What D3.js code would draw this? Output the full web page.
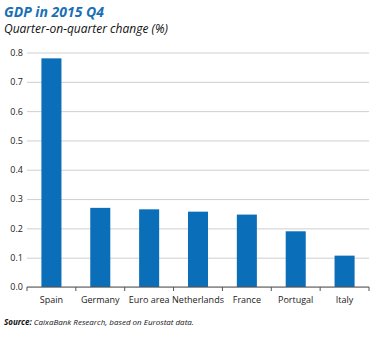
<!DOCTYPE html>
<html>
  <head>
    <meta charset="utf-8" />
    <title>GDP in 2015 Q4</title>
    <script src="https://d3js.org/d3.v7.min.js"></script>
    <style>
        body {
            margin: 0;
            background: #fff;
        }
        text {
            font-family: "Open Sans", sans-serif;
        }
    </style>
  </head>
  <body>
    <svg id="chart"></svg>

    <script>
        // chart data
        var countries = ["Spain", "Germany", "Euro area", "Netherlands", "France", "Portugal", "Italy"];
        var growth = [0.78, 0.27, 0.265, 0.257, 0.247, 0.19, 0.107];
        var yTicks = [0, 0.1, 0.2, 0.3, 0.4, 0.5, 0.6, 0.7, 0.8];

        var width = 373;
        var height = 338;
        var margin = {top: 52.5, right: 4, bottom: 51, left: 27};

        var data = countries.map(function(c, i) {
            return {country: c, value: growth[i]};
        });

        var svg = d3.select("#chart")
            .attr("width", width)
            .attr("height", height);

        var x = d3.scaleBand()
            .domain(countries)
            .range([margin.left, width - margin.right])
            .paddingInner(0.59)
            .paddingOuter(0.295);

        var y = d3.scaleLinear()
            .domain([0, 0.8])
            .range([height - margin.bottom, margin.top]);

        // gridlines + y labels
        var yAxis = d3.axisLeft(y)
            .tickValues(yTicks)
            .tickFormat(d3.format(".1f"))
            .tickSize(-(width - margin.right - margin.left))
            .tickPadding(4);

        svg.append("g")
            .attr("transform", "translate(" + margin.left + ",0)")
            .call(yAxis)
            .call(function(g) {
                g.select(".domain").remove();
                g.selectAll(".tick line")
                    .attr("stroke", "#cfcfcf")
                    .attr("stroke-width", 1);
                g.selectAll(".tick text")
                    .attr("fill", "#222")
                    .attr("font-size", 9)
                    .attr("x", -4)
                    .attr("text-anchor", "end");
            });

        // bars
        svg.append("g").selectAll("rect")
            .data(data)
            .enter().append("rect")
            .attr("x", function(d) { return x(d.country); })
            .attr("width", x.bandwidth())
            .attr("y", function(d) { return y(d.value); })
            .attr("height", function(d) { return y(0) - y(d.value); })
            .attr("fill", "#0a6eb8");

        // x axis with ticks at band edges
        var xg = svg.append("g")
            .attr("transform", "translate(0," + y(0) + ")");

        xg.append("line")
            .attr("x1", margin.left)
            .attr("x2", width - margin.right)
            .attr("stroke", "#555")
            .attr("stroke-width", 1);

        var step = x.step();
        var edges = d3.range(countries.length + 1).map(function(i) {
            return margin.left + i * step;
        });

        xg.selectAll(".edge")
            .data(edges)
            .enter().append("line")
            .attr("class", "edge")
            .attr("x1", function(d) { return d; })
            .attr("x2", function(d) { return d; })
            .attr("y1", 0)
            .attr("y2", 4)
            .attr("stroke", "#555");

        xg.selectAll(".lbl")
            .data(countries)
            .enter().append("text")
            .attr("class", "lbl")
            .attr("x", function(d) { return x(d) + x.bandwidth() / 2; })
            .attr("y", 16)
            .attr("text-anchor", "middle")
            .attr("font-size", 9)
            .attr("fill", "#222")
            .text(function(d) { return d; });

        // titles
        svg.append("text")
            .attr("x", 4)
            .attr("y", 17)
            .attr("font-size", 14)
            .attr("font-weight", "bold")
            .attr("font-style", "italic")
            .attr("fill", "#1a6fb5")
            .text("GDP in 2015 Q4");

        svg.append("text")
            .attr("x", 4)
            .attr("y", 33)
            .attr("font-size", 12)
            .attr("font-style", "italic")
            .attr("fill", "#111")
            .text("Quarter-on-quarter change (%)");

        var src = svg.append("text")
            .attr("x", 4)
            .attr("y", 325)
            .attr("font-size", 8)
            .attr("font-style", "italic")
            .attr("fill", "#111");
        src.append("tspan").attr("font-weight", "bold").text("Source: ");
        src.append("tspan").text("CaixaBank Research, based on Eurostat data.");
    </script>
  </body>
</html>
